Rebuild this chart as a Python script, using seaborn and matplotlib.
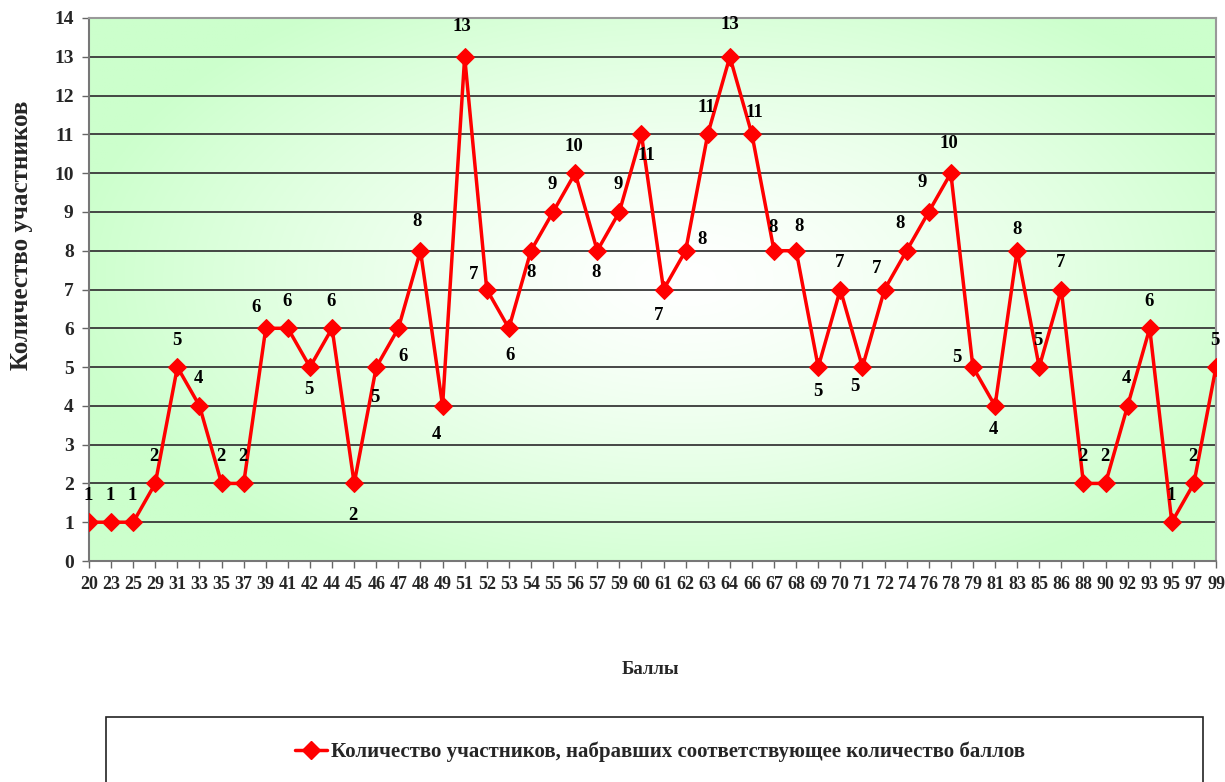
import numpy as np
import pandas as pd
import matplotlib
matplotlib.use('Agg')
import matplotlib.pyplot as plt
import matplotlib.patches as patches
from matplotlib.lines import Line2D
import seaborn as sns

# Баллы (категории по оси X)
scores = ['20', '23', '25', '29', '31', '33', '35', '37', '39', '41', '42', '44', '45',
          '46', '47', '48', '49', '51', '52', '53', '54', '55', '56', '57', '59', '60',
          '61', '62', '63', '64', '66', '67', '68', '69', '70', '71', '72', '74', '76',
          '78', '79', '81', '83', '85', '86', '88', '90', '92', '93', '95', '97', '99']
# Количество участников
counts = [1, 1, 1, 2, 5, 4, 2, 2, 6, 6, 5, 6, 2, 5, 6, 8, 4, 13, 7, 6, 8, 9, 10, 8, 9, 11,
          7, 8, 11, 13, 11, 8, 8, 5, 7, 5, 7, 8, 9, 10, 5, 4, 8, 5, 7, 2, 2, 4, 6, 1, 2, 5]
y_ticks = list(range(0, 15))

series_name = 'Количество участников, набравших соответствующее количество баллов'

# data label offsets in pixels (default: above the marker)
label_offsets = {'39': (-10, 21), '42': (-1, -22), '45': (-1, -32), '46': (-1, -30),
                 '47': (5, -28), '49': (-6, -29), '52': (-13, 15), '53': (1, -27),
                 '54': (0, -22), '57': (-1, -22), '60': (5, -21), '61': (-5, -26),
                 '62': (16, 11), '66': (2, 22), '67': (-1, 23), '68': (3, 24),
                 '69': (0, -24), '71': (-8, -19), '72': (-8, 21), '74': (-7, 27),
                 '76': (-7, 29), '78': (-2, 30), '79': (-16, 10), '81': (-2, -24),
                 '83': (0, 21), '51': (-3, 30), '64': (0, 32), '48': (-3, 29)}

df = pd.DataFrame({'pos': np.arange(len(scores)), 'score': scores, 'count': counts})

sns.set_style('white')
plt.rcParams['font.family'] = ['Liberation Serif', 'DejaVu Serif']
plt.rcParams['font.weight'] = 'bold'

fig = plt.figure(figsize=(12.25, 7.82), dpi=100)
ax = fig.add_axes([89 / 1225, 1 - 561 / 782, (1216 - 89) / 1225, (561 - 18) / 782])

# radial green gradient background
gx, gy = np.meshgrid(np.linspace(0, 1, 400), np.linspace(0, 1, 300))
r = np.sqrt(((gx - 0.53) / 0.55) ** 2 + ((gy - 0.52) / 0.62) ** 2)
t = np.clip(r, 0, 1) ** 1.3
edge = np.array([0.80, 1.0, 0.80])
img = (1 - t)[..., None] * np.array([1.0, 1.0, 1.0]) + t[..., None] * edge
ax.imshow(img, extent=(0, len(scores) - 1, 0, 14), aspect='auto', origin='lower', zorder=0)

for yv in y_ticks[1:]:
    ax.axhline(yv, color='#383838', lw=1.3, zorder=1)

sns.lineplot(data=df, x='pos', y='count', ax=ax, color='red', lw=2.5, marker='D',
             markersize=9, markeredgecolor='red', zorder=3, legend=False)

for p, s, c in zip(df['pos'], scores, counts):
    dx, dy = label_offsets.get(s, (-1, 27))
    ax.annotate(str(c), (p, c), xytext=(dx, dy), textcoords='offset pixels',
                ha='center', va='center', fontsize=13.5, fontweight='bold', color='black',
                zorder=4)

ax.set_xlim(0, len(scores) - 1)
ax.set_ylim(0, 14)
ax.set_xticks(df['pos'])
ax.set_xticklabels(scores, fontsize=13, fontweight='bold')
ax.set_yticks(y_ticks)
ax.set_yticklabels([str(v) for v in y_ticks], fontsize=14, fontweight='bold')
ax.tick_params(axis='both', direction='out', length=5, width=1, color='#666666',
               bottom=True, left=True, pad=6)
for side in ['left', 'bottom']:
    ax.spines[side].set_color('#777777')
    ax.spines[side].set_linewidth(1.5)
for side in ['top', 'right']:
    ax.spines[side].set_color('#999999')
    ax.spines[side].set_linewidth(1.5)

ax.set_xlabel('')
ax.set_ylabel('')
fig.text(650 / 1225, 1 - 670 / 782, 'Баллы', ha='center', va='center',
         fontsize=13.5, fontweight='bold')
fig.text(22 / 1225, 1 - 235 / 782, 'Количество участников', ha='center', va='center',
         rotation=90, fontsize=18, fontweight='bold')

# legend box
fig.patches.append(patches.Rectangle((106 / 1225, -0.05), (1203 - 106) / 1225,
                                     0.05 + (782 - 717) / 782, transform=fig.transFigure,
                                     fill=False, edgecolor='#222222', lw=1.2))
handle = Line2D([], [], color='red', lw=2.5, marker='D', markersize=9)
fig.legend([handle], [series_name], loc='center', bbox_to_anchor=(660 / 1225, 1 - 752 / 782),
           frameon=False, prop={'size': 15, 'weight': 'bold'}, handlelength=1.5,
           handletextpad=0.2)

fig.savefig('out.png', dpi=100)
